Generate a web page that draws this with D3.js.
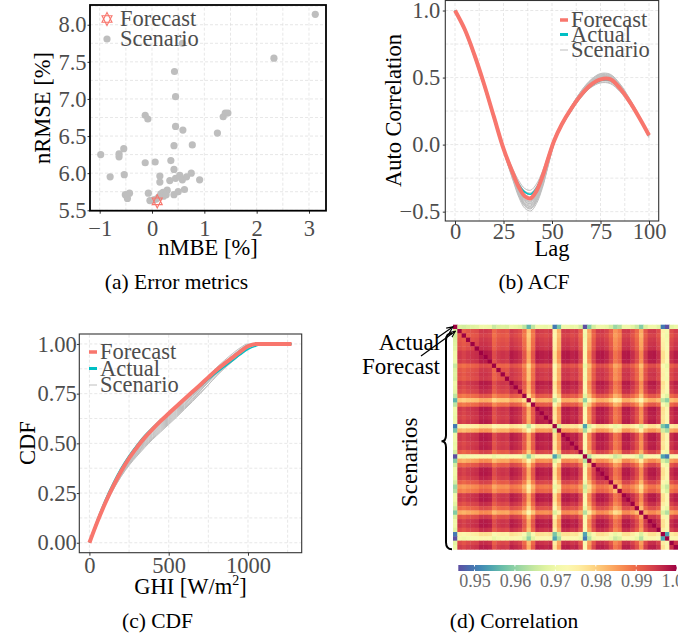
<!DOCTYPE html>
<meta charset="utf-8">
<script src="https://cdn.jsdelivr.net/npm/d3@7"></script>
<style>
  body { margin: 0; background: #fff; }
</style>
<body>
<svg width="694" height="633"></svg>
</body>
<script>
    // ---------- (a) error metrics ----------
    var scenMBE  = [3.12, 0.58, 2.33, 0.43, 0.45, -0.13, -0.08, 1.36, 1.40, 1.45,
                    0.45, 0.59, 1.25, 0.42, 0.77, -0.54, -0.98, -0.63, -0.63, -0.13,
                    0.06, 0.36, 0.42, -0.53, -0.80, 0.15, 0.15, 0.34, 0.45, 0.53,
                    0.58, 0.66, 0.75, 0.91, -0.07, 0.62, 0.42, 0.50, -0.51, -0.43,
                    -0.47, 0.29, 0.21, 0.17, -0.04, 0.03, 0.08, 0.22, 0.13, 0.27];
    var scenRMSE = [8.14, 7.75, 7.55, 7.37, 7.03, 6.78, 6.73, 6.76, 6.81, 6.81,
                    6.63, 6.58, 6.54, 6.37, 6.38, 6.33, 6.25, 6.26, 6.22, 6.14,
                    6.15, 6.17, 6.05, 5.98, 5.95, 5.96, 5.88, 5.90, 5.93, 5.97,
                    5.91, 5.95, 6.00, 5.91, 5.73, 5.78, 5.71, 5.75, 5.71, 5.73,
                    5.66, 5.77, 5.74, 5.72, 5.63, 5.64, 5.65, 5.69, 5.68, 5.71];
    var fcMBE = 0.10, fcRMSE = 5.62;

    // ---------- (b) ACF ----------
    var lags = [0, 5, 10, 15, 20, 25, 30, 33, 36, 39, 42, 45, 48, 51, 55, 60, 65, 70, 75, 80, 85, 90, 95, 100];
    var acfForecast = [1, .86, .67, .45, .21, -.03, -.22, -.32, -.385, -.40, -.345, -.24, -.105, .025, .15, .27, .37, .445, .487, .488, .42, .32, .20, .07];
    var acfActual   = [1, .85, .655, .435, .195, -.04, -.215, -.30, -.355, -.37, -.325, -.225, -.10, .018, .14, .258, .358, .437, .478, .48, .415, .318, .20, .07];
    var acfScenarios = [
        [1, .855, .66, .44, .198, -.036, -.237, -.344, -.414, -.43, -.379, -.274, -.127, .021, .157, .286, .395, .476, .52, .515, .446, .338, .212, .079],
        [1, .86, .67, .45, .21, -.034, -.231, -.336, -.404, -.42, -.369, -.266, -.121, .024, .158, .282, .385, .459, .50, .495, .429, .326, .204, .073],
        [1, .855, .66, .44, .198, -.044, -.259, -.376, -.452, -.47, -.417, -.306, -.149, .009, .153, .284, .39, .467, .51, .505, .437, .332, .208, .076],
        [1, .863, .675, .455, .216, -.038, -.242, -.352, -.423, -.44, -.388, -.282, -.132, .018, .156, .28, .38, .45, .49, .485, .42, .32, .20, .07],
        [1, .865, .68, .46, .222, -.022, -.198, -.288, -.347, -.36, -.312, -.218, -.088, .042, .164, .277, .373, .437, .475, .47, .407, .311, .194, .066],
        [1, .855, .66, .44, .198, -.046, -.264, -.384, -.461, -.48, -.426, -.314, -.154, .006, .152, .282, .385, .459, .50, .495, .429, .326, .204, .073],
        [1, .86, .67, .45, .21, -.04, -.248, -.36, -.433, -.45, -.398, -.29, -.138, .015, .155, .284, .39, .467, .51, .505, .437, .332, .208, .076],
        [1, .858, .665, .445, .204, -.042, -.253, -.368, -.442, -.46, -.407, -.298, -.143, .012, .154, .287, .398, .48, .525, .52, .45, .341, .214, .081],
        [1, .863, .675, .455, .216, -.03, -.22, -.32, -.385, -.40, -.35, -.25, -.11, .03, .16, .275, .368, .429, .465, .46, .399, .305, .19, .063],
        [1, .855, .66, .44, .198, -.049, -.272, -.396, -.475, -.495, -.44, -.326, -.162, .002, .151, .285, .393, .471, .515, .51, .441, .335, .21, .078],
        [1, .86, .67, .45, .21, -.035, -.234, -.34, -.409, -.425, -.374, -.27, -.124, .023, .158, .288, .40, .484, .53, .525, .454, .344, .216, .082],
        [1, .863, .675, .455, .216, -.024, -.204, -.296, -.357, -.37, -.322, -.226, -.094, .039, .163, .279, .378, .446, .485, .48, .416, .317, .198, .069],
        [1, .858, .665, .445, .204, -.042, -.253, -.368, -.442, -.46, -.407, -.298, -.143, .012, .154, .28, .38, .45, .49, .485, .42, .315, .19, .05],
        [1, .86, .67, .45, .21, -.038, -.242, -.352, -.423, -.44, -.388, -.282, -.132, .018, .156, .277, .373, .437, .475, .47, .407, .311, .194, .066],
        [1, .855, .66, .44, .198, -.045, -.261, -.38, -.456, -.475, -.421, -.31, -.151, .008, .153, .283, .388, .463, .505, .50, .433, .329, .206, .075],
        [1, .86, .67, .45, .21, -.032, -.226, -.328, -.395, -.41, -.36, -.258, -.116, .027, .159, .281, .383, .454, .495, .49, .424, .323, .202, .072],
        [1, .865, .68, .46, .222, -.018, -.187, -.272, -.328, -.34, -.293, -.202, -.077, .048, .166, .274, .365, .425, .46, .455, .395, .302, .188, .061]
    ];

    // ---------- (c) CDF ----------
    var ghi = [0, 50, 100, 150, 200, 250, 300, 350, 400, 450, 500, 550, 600, 650, 700, 750, 800, 850, 900, 950, 1000, 1050, 1100, 1275];
    var cdfForecast = [0, .105, .20, .285, .36, .425, .48, .53, .573, .613, .65, .687, .723, .759, .795, .832, .868, .90, .93, .96, .988, 1, 1, 1];
    var cdfActual   = [0, .115, .215, .30, .375, .438, .492, .54, .58, .618, .652, .687, .72, .754, .788, .822, .855, .885, .915, .945, .973, .99, 1, 1];
    var cdfScenarios = [
        [0, .103, .196, .278, .35, .412, .464, .512, .554, .593, .63, .667, .704, .741, .781, .822, .863, .90, .934, .966, .992, 1, 1, 1],
        [0, .102, .193, .273, .343, .402, .452, .499, .54, .578, .615, .652, .69, .728, .767, .808, .849, .886, .92, .953, .985, 1, 1, 1],
        [0, .10, .19, .268, .335, .393, .44, .485, .526, .563, .60, .637, .676, .714, .754, .795, .838, .876, .91, .945, .98, .997, 1, 1],
        [0, .104, .198, .282, .355, .419, .472, .521, .564, .603, .64, .677, .714, .751, .79, .831, .872, .908, .942, .973, .996, 1, 1, 1],
        [0, .101, .191, .269, .338, .396, .444, .49, .53, .568, .605, .642, .68, .719, .763, .809, .855, .898, .937, .971, .996, 1, 1, 1],
        [0, .103, .195, .276, .348, .409, .46, .508, .549, .588, .625, .662, .699, .737, .773, .81, .848, .882, .913, .945, .98, .995, 1, 1],
        [0, .105, .20, .285, .36, .425, .48, .53, .573, .613, .65, .687, .723, .759, .799, .84, .88, .916, .95, .98, 1, 1, 1, 1],
        [0, .101, .192, .271, .34, .399, .448, .494, .535, .573, .61, .647, .685, .723, .765, .808, .852, .892, .928, .962, .99, 1, 1, 1],
        [0, .104, .197, .28, .353, .415, .468, .517, .559, .598, .635, .672, .709, .746, .782, .82, .857, .89, .921, .952, .984, 1, 1, 1],
        [0, .102, .194, .275, .345, .406, .456, .503, .545, .583, .62, .657, .695, .735, .774, .817, .861, .90, .936, .969, .994, 1, 1, 1],
        [0, .10, .189, .266, .333, .389, .436, .48, .521, .558, .595, .632, .671, .71, .751, .794, .838, .878, .914, .949, .983, 1, 1, 1]
    ];

    // ---------- (d) correlation ----------
    // 0 = Actual, 1 = Forecast, 2.. = scenarios; per-series departure from the common signal
    var corrNames = ['Actual', 'Forecast'];
    var corrDev = [0.029, 0.004, 0.005, 0.004, 0.0035, 0.003, 0.001, 0.001, 0.0015, 0.006,
                   0.004, 0.0035, 0.004, 0.0012, 0.002, 0.003, 0.007, 0.015, 0.007, 0.001,
                   0.0015, 0.002, 0.0012, 0.021, 0.013, 0.0012, 0.001, 0.002, 0.0015, 0.005,
                   0.025, 0.012, 0.005, 0.0012, 0.001, 0.002, 0.005, 0.010, 0.008, 0.0012,
                   0.001, 0.003, 0.006, 0.012, 0.004, 0.0012, 0.001, 0.003, 0.021, 0.025,
                   0.003, 0.0015];
    var corrTicks = [0.95, 0.96, 0.97, 0.98, 0.99, 1.00];

    // ---------- styles ----------
    var serif = '"Liberation Serif", "Times New Roman", Times, serif';
    var RED = '#F8766D', TEAL = '#00BFC4', GREY = '#bebebe';
    var tickFont = 22.5, titleFont = 22.5, legFont = 22.5, capFont = 21.5;

    var svg = d3.select('svg').style('font-family', serif);
    svg.append('rect').attr('width', 694).attr('height', 633).attr('fill', 'white');
    var defs = svg.append('defs');

    function expand(ext, f) {
        var p = (ext[1] - ext[0]) * (f || 0.05);
        return [ext[0] - p, ext[1] + p];
    }

    function drawFrame(g, x, y, o) {
        var x0 = x.range()[0], x1 = x.range()[1], y0 = y.range()[0], y1 = y.range()[1];
        var grid = g.append('g').attr('stroke', '#dcdcdc').attr('stroke-width', 0.7)
            .attr('stroke-dasharray', '3,2');
        o.xMinor.concat(o.xTicks).forEach(function (v) {
            grid.append('line').attr('x1', x(v)).attr('x2', x(v)).attr('y1', y0).attr('y2', y1);
        });
        o.yMinor.concat(o.yTicks).forEach(function (v) {
            grid.append('line').attr('y1', y(v)).attr('y2', y(v)).attr('x1', x0).attr('x2', x1);
        });

        g.append('g').attr('transform', 'translate(0,' + y0 + ')')
            .call(d3.axisBottom(x).tickValues(o.xTicks).tickFormat(o.xFmt).tickSize(3).tickPadding(o.xPad))
            .call(styleAxis);
        g.append('g').attr('transform', 'translate(' + x0 + ',0)')
            .call(d3.axisLeft(y).tickValues(o.yTicks).tickFormat(o.yFmt).tickSize(2.5).tickPadding(o.yPad))
            .call(styleAxis);

        g.append('rect').attr('x', x0).attr('y', y1).attr('width', x1 - x0).attr('height', y0 - y1)
            .attr('fill', 'none').attr('stroke', o.border).attr('stroke-width', o.bw);
    }

    function styleAxis(a) {
        a.attr('font-family', null).attr('font-size', null);
        a.select('.domain').remove();
        a.selectAll('line').attr('stroke', '#333');
        a.selectAll('text').attr('font-size', tickFont).attr('fill', '#4d4d4d');
    }

    function addText(g, x, y, txt, o) {
        o = o || {};
        var t = g.append('text').attr('x', x).attr('y', y).text(txt)
            .attr('font-size', o.size || titleFont).attr('fill', o.fill || 'black')
            .attr('text-anchor', o.anchor || 'middle');
        if (o.rotate) t.attr('transform', 'rotate(-90,' + x + ',' + y + ')');
        return t;
    }

    // =============== (a) ===============
    var gA = svg.append('g');
    var xA = d3.scaleLinear().domain(expand(d3.extent(scenMBE.concat([fcMBE])))).range([90, 326]);
    var yA = d3.scaleLinear().domain(expand(d3.extent(scenRMSE.concat([fcRMSE])))).range([210.7, 5]);
    drawFrame(gA, xA, yA, {
        xTicks: [-1, 0, 1, 2, 3], xMinor: [-0.5, 0.5, 1.5, 2.5], xFmt: d3.format('d'), xPad: 6,
        yTicks: [5.5, 6, 6.5, 7, 7.5, 8], yMinor: [5.75, 6.25, 6.75, 7.25, 7.75, 8.25], yFmt: d3.format('.1f'), yPad: 1,
        border: 'black', bw: 1.8
    });
    gA.append('g').selectAll('circle').data(scenMBE).enter().append('circle')
        .attr('cx', function (d) { return xA(d); })
        .attr('cy', function (d, i) { return yA(scenRMSE[i]); })
        .attr('r', 3.6).attr('fill', GREY);

    // ggplot shape 11: two overlaid triangles
    function star(g, cx, cy, s) {
        var w = s * 0.455;
        g.append('path')
            .attr('d', 'M' + cx + ',' + (cy - s * 0.6) + 'L' + (cx + w) + ',' + (cy + s * 0.3) + 'L' + (cx - w) + ',' + (cy + s * 0.3) + 'Z' +
                'M' + cx + ',' + (cy + s * 0.6) + 'L' + (cx + w) + ',' + (cy - s * 0.3) + 'L' + (cx - w) + ',' + (cy - s * 0.3) + 'Z')
            .attr('fill', 'none').attr('stroke', RED).attr('stroke-width', 1.1);
    }
    star(gA, xA(fcMBE), yA(fcRMSE), 11);

    star(gA, 107, 19, 11);
    gA.append('circle').attr('cx', 107).attr('cy', 39).attr('r', 3.6).attr('fill', GREY);
    addText(gA, 120, 26, 'Forecast', { anchor: 'start', size: legFont, fill: '#4d4d4d' });
    addText(gA, 120, 46, 'Scenario', { anchor: 'start', size: legFont, fill: '#4d4d4d' });
    addText(gA, 208, 255, 'nMBE [%]');
    addText(gA, 50, 108, 'nRMSE [%]', { rotate: true });
    addText(gA, 176.5, 289, '(a) Error metrics', { size: capFont });

    // =============== (b) ===============
    var gB = svg.append('g');
    var allAcf = d3.merge(acfScenarios.concat([acfForecast, acfActual]));
    var xB = d3.scaleLinear().domain(expand(d3.extent(lags))).range([445.3, 658.7]);
    var yB = d3.scaleLinear().domain(expand(d3.extent(allAcf))).range([221, 0.5]);
    drawFrame(gB, xB, yB, {
        xTicks: [0, 25, 50, 75, 100], xMinor: [12.5, 37.5, 62.5, 87.5], xFmt: d3.format('d'), xPad: -0.6,
        yTicks: [-0.5, 0, 0.5, 1], yMinor: [-0.25, 0.25, 0.75], yFmt: d3.format('.1f'), yPad: 2.5,
        border: '#333', bw: 1.1
    });
    var acfLine = d3.line()
        .x(function (d, i) { return xB(lags[i]); })
        .y(function (d) { return yB(d); })
        .curve(d3.curveCatmullRom.alpha(0.5));
    gB.append('g').selectAll('path').data(acfScenarios).enter().append('path')
        .attr('d', acfLine).attr('fill', 'none').attr('stroke', GREY).attr('stroke-width', 1);
    gB.append('path').attr('d', acfLine(acfActual)).attr('fill', 'none').attr('stroke', TEAL).attr('stroke-width', 1.6);
    gB.append('path').attr('d', acfLine(acfForecast)).attr('fill', 'none').attr('stroke', RED).attr('stroke-width', 4);

    function legendLines(g, x, ys, tx) {
        var keys = [['Forecast', RED, 3.5], ['Actual', TEAL, 3], ['Scenario', GREY, 1]];
        keys.forEach(function (k, i) {
            g.append('line').attr('x1', x).attr('x2', x + 8).attr('y1', ys[i]).attr('y2', ys[i])
                .attr('stroke', k[1]).attr('stroke-width', k[2]);
            addText(g, tx, ys[i] + 7, k[0], { anchor: 'start', size: legFont, fill: '#4d4d4d' });
        });
    }
    legendLines(gB, 560, [20, 34.5, 50], 571);
    addText(gB, 552, 256, 'Lag');
    addText(gB, 401, 110.5, 'Auto Correlation', { rotate: true });
    addText(gB, 534, 289, '(b) ACF', { size: capFont });

    // =============== (c) ===============
    var gC = svg.append('g');
    var xC = d3.scaleLinear().domain(expand(d3.extent(ghi))).range([79.3, 301.7]);
    var yC = d3.scaleLinear().domain(expand([0, 1])).range([552.7, 334]);
    drawFrame(gC, xC, yC, {
        xTicks: [0, 500, 1000], xMinor: [250, 750, 1250], xFmt: d3.format('d'), xPad: 1,
        yTicks: [0, 0.25, 0.5, 0.75, 1], yMinor: [0.125, 0.375, 0.625, 0.875], yFmt: d3.format('.2f'), yPad: 0,
        border: '#333', bw: 1.1
    });
    var cdfLine = d3.line()
        .x(function (d, i) { return xC(ghi[i]); })
        .y(function (d) { return yC(d); })
        .curve(d3.curveMonotoneX);
    gC.append('g').selectAll('path').data(cdfScenarios).enter().append('path')
        .attr('d', cdfLine).attr('fill', 'none').attr('stroke', GREY).attr('stroke-width', 1);
    gC.append('path').attr('d', cdfLine(cdfActual)).attr('fill', 'none').attr('stroke', TEAL).attr('stroke-width', 1.6);
    gC.append('path').attr('d', cdfLine(cdfForecast)).attr('fill', 'none').attr('stroke', RED).attr('stroke-width', 4);
    legendLines(gC, 89, [352, 368.5, 385], 100);
    var ghiTitle = addText(gC, 190.5, 594, 'GHI [W/m');
    ghiTitle.append('tspan').text('2').attr('font-size', 14).attr('dy', -9);
    ghiTitle.append('tspan').text(']').attr('dy', 9);
    addText(gC, 35, 443, 'CDF', { rotate: true });
    addText(gC, 157.5, 628, '(c) CDF', { size: capFont });

    // =============== (d) ===============
    defs.append('clipPath').attr('id', 'clipD').append('rect')
        .attr('x', 340).attr('y', 300).attr('width', 338).attr('height', 333);
    var gD = svg.append('g').attr('clip-path', 'url(#clipD)');
    var n = corrDev.length, idx = d3.range(n);
    var cells = [];
    idx.forEach(function (i) {
        idx.forEach(function (j) {
            cells.push({ i: i, j: j, v: i === j ? 1 : 1 - corrDev[i] - corrDev[j] });
        });
    });
    var vExt = d3.extent(cells, function (d) { return d.v; });
    var color = d3.scaleSequential(d3.interpolateSpectral).domain([vExt[1], vExt[0]]);
    var xD = d3.scaleBand().domain(idx).range([453, 678]);
    var yD = d3.scaleBand().domain(idx).range([324.7, 549.3]);
    gD.append('g').selectAll('rect').data(cells).enter().append('rect')
        .attr('x', function (d) { return xD(d.j); })
        .attr('y', function (d) { return yD(d.i); })
        .attr('width', xD.bandwidth() + 0.4)
        .attr('height', yD.bandwidth() + 0.4)
        .attr('fill', function (d) { return color(d.v); });

    // colour bar
    var cb = d3.scaleLinear().domain(vExt).range([458.3, 676.7]);
    var grad = defs.append('linearGradient').attr('id', 'cbGrad');
    d3.range(0, 1.0001, 0.05).forEach(function (t) {
        grad.append('stop').attr('offset', t).attr('stop-color', color(vExt[0] + t * (vExt[1] - vExt[0])));
    });
    gD.append('rect').attr('x', 458.3).attr('y', 565).attr('width', 218.4).attr('height', 6)
        .attr('fill', 'url(#cbGrad)');
    var cbAxis = gD.append('g').attr('transform', 'translate(0,571)')
        .call(d3.axisBottom(cb).tickValues(corrTicks).tickFormat(d3.format('.2f')).tickSize(0).tickPadding(3));
    cbAxis.attr('font-family', null).attr('font-size', null).select('.domain').remove();
    cbAxis.selectAll('text').attr('font-size', 18).attr('fill', '#6b6b6b');
    corrTicks.forEach(function (v) {
        gD.append('line').attr('x1', cb(v)).attr('x2', cb(v)).attr('y1', 565).attr('y2', 566.5).attr('stroke', 'white');
        gD.append('line').attr('x1', cb(v)).attr('x2', cb(v)).attr('y1', 569.5).attr('y2', 571).attr('stroke', 'white');
    });

    // annotations
    defs.append('marker').attr('id', 'arr').attr('viewBox', '0 0 8 8').attr('refX', 7).attr('refY', 4)
        .attr('markerWidth', 6).attr('markerHeight', 6).attr('orient', 'auto')
        .append('path').attr('d', 'M0,0.8L7,4L0,7.2').attr('fill', 'none').attr('stroke', 'black').attr('stroke-width', 1.2);
    gD.append('line').attr('x1', 437).attr('y1', 338).attr('x2', xD(0)).attr('y2', yD(0) + yD.bandwidth() / 2)
        .attr('stroke', 'black').attr('stroke-width', 1.2).attr('marker-end', 'url(#arr)');
    gD.append('line').attr('x1', 421).attr('y1', 356).attr('x2', xD(1) - 2).attr('y2', yD(1) + yD.bandwidth() / 2)
        .attr('stroke', 'black').attr('stroke-width', 1.2).attr('marker-end', 'url(#arr)');
    addText(gD, 440, 350, corrNames[0], { anchor: 'end', size: 23 });
    addText(gD, 440, 374, corrNames[1], { anchor: 'end', size: 23 });

    var bTop = yD(2), bBot = yD(n - 1) + yD.bandwidth(), bMid = (bTop + bBot) / 2;
    gD.append('path')
        .attr('d', 'M452,' + bTop + 'Q446,' + bTop + ' 446,' + (bTop + 7) + 'L446,' + (bMid - 6) +
            'Q446,' + bMid + ' 441.5,' + bMid + 'Q446,' + bMid + ' 446,' + (bMid + 6) +
            'L446,' + (bBot - 7) + 'Q446,' + bBot + ' 452,' + bBot)
        .attr('fill', 'none').attr('stroke', 'black').attr('stroke-width', 2);
    addText(gD, 417, bMid + 21, 'Scenarios', { rotate: true, size: 23 });
    addText(svg, 514, 628, '(d) Correlation', { size: capFont });
</script>
